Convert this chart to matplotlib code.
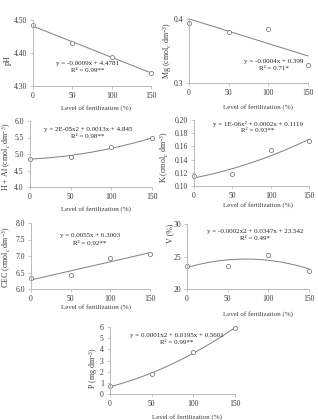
import numpy as np
import matplotlib
matplotlib.use("Agg")
import matplotlib.pyplot as plt

plt.rcParams['font.family'] = ['Liberation Serif', 'DejaVu Serif']
plt.rcParams['mathtext.fontset'] = 'custom'
plt.rcParams['mathtext.rm'] = 'Liberation Serif'
plt.rcParams['mathtext.it'] = 'Liberation Serif:italic'

levels = [0, 50, 100, 150]
ph = [4.484, 4.429, 4.389, 4.340]
mg = [0.394, 0.379, 0.384, 0.328]
hal = [4.86, 4.91, 5.22, 5.47]
k = [0.115, 0.118, 0.154, 0.168]
cec = [6.32, 6.42, 6.95, 7.06]
v = [23.6, 23.6, 25.3, 22.8]
p = [0.69, 1.78, 3.76, 5.91]

xlabel = "Level of fertilization (%)"

# data, degree, ylabel, ylim, yticks, fmt, eq1, eq2, axes px box, eq px, xlabel px, ylabel px
panels = [
    (ph, 1, "pH", (4.30, 4.50), [4.30, 4.40, 4.50], "{:.2f}",
     "y = -0.0009x + 4.4781", "R² = 0.99**", (33, 20, 151, 86), (88, 63), (96, 108), (8, 60)),
    (mg, 1, "Mg (cmol$_c$ dm$^{-3}$)", (0.3, 0.4), [0.3, 0.4], "{:.1f}",
     "y = -0.0004x + 0.399", "R² = 0.71*", (189, 19, 308, 83), (274, 61), (258, 107), (168, 50)),
    (hal, 2, "H + Al (cmol$_c$ dm$^{-3}$)", (4.0, 6.0), [4.0, 4.5, 5.0, 5.5, 6.0], "{:.1f}",
     "y = 2E-05x2 + 0.0013x + 4.845", "R² = 0.98**", (30, 121, 152, 187), (88, 129), (96, 209), (7, 157)),
    (k, 2, "K (cmol$_c$ dm$^{-3}$)", (0.10, 0.20), [0.10, 0.12, 0.14, 0.16, 0.18, 0.20], "{:.2f}",
     "y = 1E-06x² + 0.0002x + 0.1119", "R² = 0.93**", (194, 120, 309, 186), (258, 124), (258, 205), (165, 157)),
    (cec, 1, "CEC (cmol$_c$ dm$^{-3}$)", (6.0, 8.0), [6.0, 6.5, 7.0, 7.5, 8.0], "{:.1f}",
     "y = 0.0055x + 6.3003", "R² = 0.92**", (31, 223, 150, 289), (90, 236), (96, 307), (7, 257)),
    (v, 2, "V (%)", (20, 30), [20, 25, 30], "{:.0f}",
     "y = -0.0002x2 + 0.0347x + 23.542", "R² = 0.49*", (187, 224, 309, 289), (255, 231), (258, 314), (170, 233)),
    (p, 2, "P (mg dm$^{-3}$)", (0, 6), [0, 1, 2, 3, 4, 5, 6], "{:.0f}",
     "y = 0.0001x2 + 0.0195x + 0.5601", "R² = 0.99**", (110, 327, 235, 394), (177, 335), (187, 417), (93, 368)),
]

W, H = 318, 420
fig = plt.figure(figsize=(W / 100, H / 100), dpi=100)
fig.patch.set_facecolor('white')

gray = '#7f7f7f'
txt = '#3a3a3a'
for data, deg, ylab, ylim, yt, fmt, eq1, eq2, box, eqpos, xlpos, ylpos in panels:
    x0, y0, x1, y1 = box
    ax = fig.add_axes([x0 / W, 1 - y1 / H, (x1 - x0) / W, (y1 - y0) / H])
    coef = np.polyfit(levels, data, deg)
    xs = np.linspace(0, 150, 200)
    ax.plot(xs, np.polyval(coef, xs), color=gray, lw=0.7, clip_on=False)
    ax.plot(levels, data, 'o', ms=3, mfc='white', mec=gray, mew=0.6, clip_on=False)
    ax.set_xlim(0, 150)
    ax.set_ylim(*ylim)
    ax.set_xticks(levels)
    ax.set_yticks(yt)
    ax.set_yticklabels([fmt.format(t) for t in yt])
    for s in ['top', 'right']:
        ax.spines[s].set_visible(False)
    for s in ['left', 'bottom']:
        ax.spines[s].set_color('#b0b0b0')
        ax.spines[s].set_linewidth(0.6)
    ax.tick_params(labelsize=5.5, length=2, width=0.5, color='#b0b0b0', pad=2.5, labelcolor=txt)
    ax.patch.set_alpha(0)
    ex, ey = eqpos
    fig.text(ex / W, 1 - ey / H, eq1, ha='center', va='center', fontsize=5, color='#222222')
    fig.text(ex / W, 1 - (ey + 7) / H, eq2, ha='center', va='center', fontsize=5, color='#222222')
    fig.text(xlpos[0] / W, 1 - xlpos[1] / H, xlabel, ha='center', va='center', fontsize=5, color=txt)
    fig.text(ylpos[0] / W, 1 - ylpos[1] / H, ylab, ha='center', va='center', rotation=90,
             fontsize=5.8, color=txt)

fig.savefig("out.png", dpi=100)
